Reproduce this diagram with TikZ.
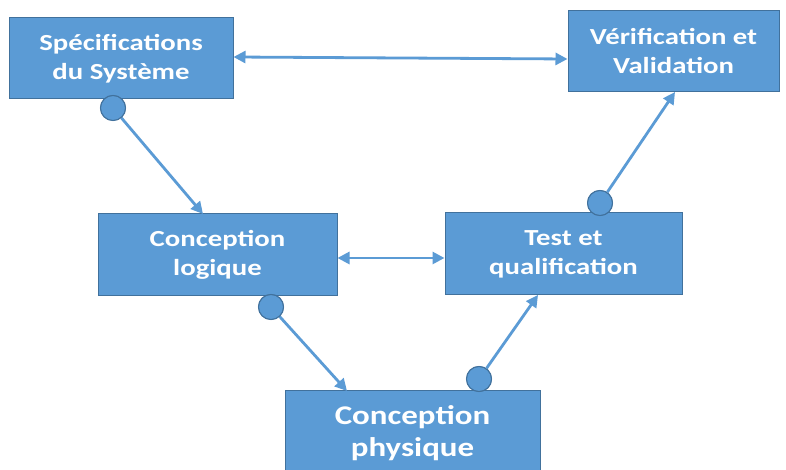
\documentclass[tikz,border=0pt]{standalone}
\usepackage{fontspec}
\setmainfont{Carlito}
\newfontfamily\boxfont{Carlito}[FakeStretch=1.25]
\newfontfamily\bigboxfont{Carlito}[FakeStretch=1.22]
\usetikzlibrary{arrows.meta}
\definecolor{boxblue}{HTML}{5B9BD5}
\definecolor{boxedge}{HTML}{41719C}
\begin{document}
\begin{tikzpicture}[x=1pt,y=1pt,
  stage/.style={draw=boxedge, fill=boxblue, line width=1pt, text=white,
    font=\boxfont\bfseries\fontsize{23}{29}\selectfont, align=center, inner sep=0pt},
  bigstage/.style={stage, font=\bigboxfont\bfseries\fontsize{27}{32}\selectfont},
  dot/.style={circle, draw=boxedge, fill=boxblue, line width=1pt, minimum size=25pt, inner sep=0pt},
  conn/.style={draw=boxblue, line width=2.8pt, -{Triangle[length=12pt,width=12pt]}},
  dconn/.style={draw=boxblue, line width=2.8pt, {Triangle[length=12pt,width=12pt]}-{Triangle[length=12pt,width=12pt]}}
]
\clip (0,0) rectangle (786,470);
\fill[white] (0,0) rectangle (786,470);
% boxes
\node[stage, minimum width=224pt, minimum height=81pt] (spec) at (121,411.5) {Spécifications\\du Système};
\node[stage, minimum width=211pt, minimum height=81pt] (verif) at (673.5,418.5) {Vérification et\\Validation};
\node[stage, minimum width=239pt, minimum height=82pt] (logic) at (217.5,215) {Conception\\logique};
\node[stage, minimum width=237pt, minimum height=82pt] (test) at (563.5,216) {Test et\\qualification};
\node[bigstage, minimum width=255pt, minimum height=84pt] (phys) at (412.5,37) {Conception\\physique};
% arrow end points on box edges
\coordinate (t1) at (203,256);
\coordinate (t3) at (347,79);
\coordinate (t5) at (538,175);
\coordinate (t4) at (675,378);
% circles
\node[dot] (d1) at (113,362) {};
\node[dot] (d3) at (271,163) {};
\node[dot] (d5) at (479,91) {};
\node[dot] (d4) at (600,267) {};
% connectors
\draw[dconn] ([yshift=1.5pt]spec.east) -- ([yshift=-7.5pt]verif.west);
\draw[dconn] ([yshift=-3pt]logic.east) -- ([yshift=-4pt]test.west);
\draw[conn] (d1) -- (t1);
\draw[conn] (d3) -- (t3);
\draw[conn] (d5) -- (t5);
\draw[conn] (d4) -- (t4);
% redraw circles on top
\node[dot] at (d1) {};
\node[dot] at (d3) {};
\node[dot] at (d5) {};
\node[dot] at (d4) {};
\end{tikzpicture}
\end{document}
